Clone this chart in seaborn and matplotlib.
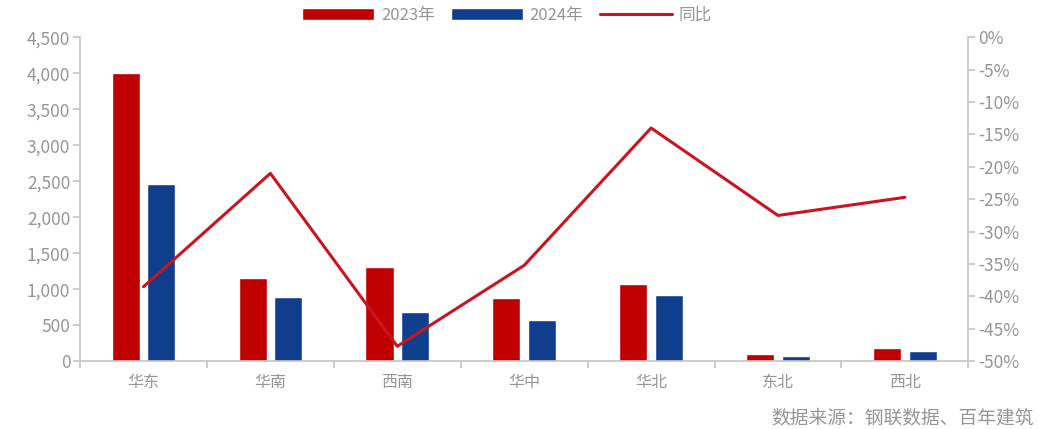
import numpy as np
import pandas as pd
import matplotlib
matplotlib.use('Agg')
import matplotlib.pyplot as plt
import seaborn as sns
from matplotlib.patches import Patch
from matplotlib.lines import Line2D
from matplotlib.ticker import FuncFormatter, FixedLocator

# data
regions = ['华东', '华南', '西南', '华中', '华北', '东北', '西北']
vals_2023 = [4010, 1160, 1310, 875, 1070, 95, 180]
vals_2024 = [2460, 890, 680, 570, 920, 70, 140]
yoy = [-38.5, -21.0, -47.7, -35.2, -14.0, -27.5, -24.7]
series_names = ['2023年', '2024年', '同比']

sns.set_theme(style='white')
plt.rcParams['font.family'] = ['Noto Sans CJK SC', 'DejaVu Sans']
plt.rcParams['axes.unicode_minus'] = False

red = '#C00000'
blue = '#0F3F8C'
line_red = '#C8151F'
grey = '#959595'
spine_grey = '#C4C4C4'

df = pd.DataFrame({
    'region': regions * 2,
    'value': vals_2023 + vals_2024,
    'year': [series_names[0]] * len(regions) + [series_names[1]] * len(regions),
})

fig = plt.figure(figsize=(10.39, 4.29), dpi=100)
ax = fig.add_axes([0.077, 0.158, 0.855, 0.755])

sns.barplot(data=df, x='region', y='value', hue='year', order=regions,
            palette=[red, blue], width=0.56, gap=0.21, ax=ax,
            legend=False, saturation=1)
ax.set_xlim(-0.5, len(regions) - 0.5)
ax.set_ylim(0, 4500)
ax.set_yticks(np.arange(0, 4501, 500))
ax.yaxis.set_major_formatter(FuncFormatter(lambda v, p: f'{int(v):,}'))
ax.set_xlabel('')
ax.set_ylabel('')

# x ticks at category boundaries, labels at centers
ax.xaxis.set_major_locator(FixedLocator(np.arange(-0.5, len(regions), 1.0)))
ax.set_xticklabels([])
ax.xaxis.set_minor_locator(FixedLocator(np.arange(len(regions))))
ax.set_xticklabels(regions, minor=True)
ax.tick_params(axis='x', which='major', bottom=True, length=5, color=spine_grey)
ax.tick_params(axis='x', which='minor', bottom=False, labelsize=11.5,
               labelcolor=grey, pad=5)
ax.tick_params(axis='y', left=True, length=5, color=spine_grey,
               labelsize=12.5, labelcolor=grey, pad=2)

ax2 = ax.twinx()
sns.lineplot(x=np.arange(len(regions)), y=yoy, color=line_red, linewidth=2.2,
             ax=ax2)
ax2.set_ylim(-50, 0)
ax2.set_yticks(np.arange(-50, 1, 5))
ax2.yaxis.set_major_formatter(FuncFormatter(lambda v, p: f'{int(v)}%'))
ax2.tick_params(axis='y', right=True, length=5, color=spine_grey,
                labelsize=12.5, labelcolor=grey, pad=2)

for a in (ax, ax2):
    a.spines['top'].set_visible(False)
    for s in ('left', 'right', 'bottom'):
        a.spines[s].set_color(spine_grey)
        a.spines[s].set_linewidth(1.2)
ax.spines['right'].set_visible(False)
ax2.spines['left'].set_visible(False)
ax2.spines['bottom'].set_visible(False)

handles = [Patch(facecolor=red), Patch(facecolor=blue),
           Line2D([0], [0], color=line_red, linewidth=2.2)]
fig.legend(handles, series_names, loc='center', bbox_to_anchor=(0.488, 0.965),
           ncol=3, frameon=False, fontsize=12, handlelength=4.3,
           handleheight=0.75, columnspacing=1.0, handletextpad=0.4,
           labelcolor=grey)

fig.text(0.995, 0.025, '数据来源：钢联数据、百年建筑', ha='right', va='center',
         fontsize=13.5, color=grey)

fig.savefig('out.png', dpi=100)
